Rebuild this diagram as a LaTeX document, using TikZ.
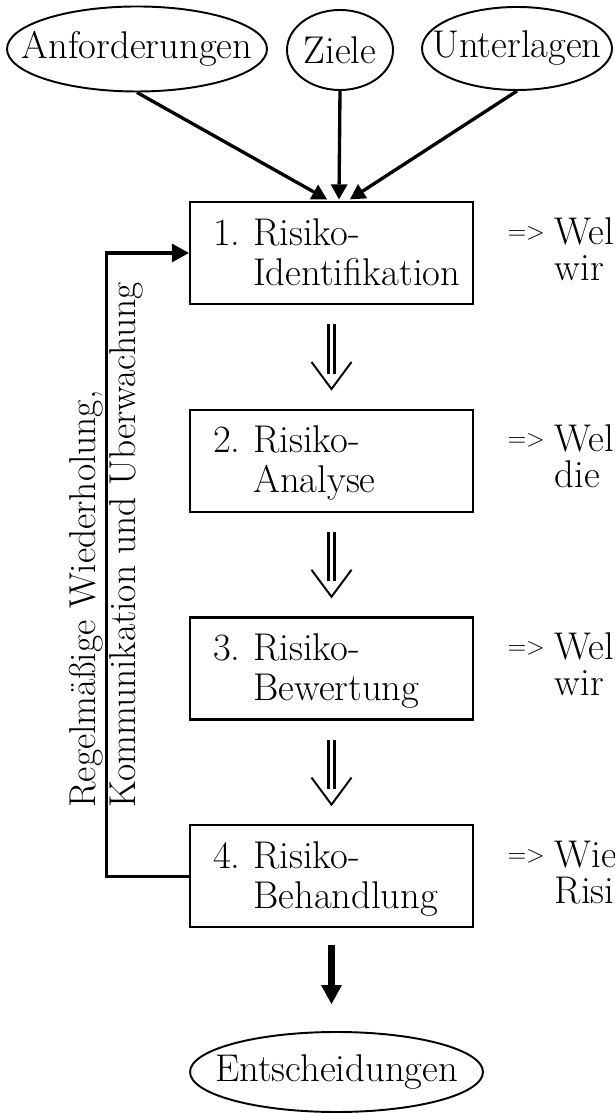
\documentclass[tikz,border=0pt]{standalone}
\usetikzlibrary{arrows.meta,positioning,calc,shapes.geometric}

\newcommand{\riskstep}[2]{\rule{0pt}{0.64cm}#1.~Risiko-\\\phantom{#1.~}#2\vphantom{g}}
\newcommand{\impl}{\raisebox{0.1cm}{\fontsize{14pt}{14pt}\selectfont =>}}
\newcommand{\question}[2]{\impl\hspace{0.2cm}#1\\\phantom{\impl\hspace{0.2cm}}#2}

\tikzset{
  every node/.style={font=\fontsize{22pt}{22.76pt}\selectfont},
  bubble/.style={draw, ellipse, line width=1.1pt, inner xsep=-0.6cm, inner ysep=0pt},
  stepbox/.style={draw, line width=1.3pt, minimum height=2.04cm, text width=4.74cm,
    inner xsep=0.46cm, inner ysep=0pt, align=left},
  note/.style={inner sep=0pt, align=left, font=\fontsize{22pt}{20.5pt}\selectfont},
  sidelabel/.style={inner sep=0pt, align=left, font=\fontsize{21.3pt}{22.76pt}\selectfont},
  inarrow/.style={line width=1.9pt, -{Triangle[length=0.3cm, width=0.34cm, line width=0pt]}},
  backarrow/.style={line width=1.8pt, -{Triangle[length=0.34cm, width=0.38cm, line width=0pt]}},
  dblshaft/.style={double, double distance=2pt, line width=1.6pt, shorten <=0.38cm, shorten >=0.7cm},
  vhead/.style={draw=white, line width=1.1pt, shorten <=0.5cm, shorten >=0.36cm,
    -{Straight Barb[black, length=0.54cm, width=0.8cm]}},
  outarrow/.style={line width=4.5pt, shorten <=0.34cm, shorten >=0.54cm,
    -{Triangle[length=0.38cm, width=0.42cm, line width=0pt]}}
}

\begin{document}
\begin{tikzpicture}
  \useasboundingbox (0,0) rectangle (12.3,22.26);

  \node[bubble, minimum width=5.2cm, minimum height=1.7cm] (anf) at (2.74,21.28) {Anforderungen};
  \node[bubble, minimum width=2.12cm, minimum height=1.6cm] (ziele) at (6.8,21.26) {Ziele};
  \node[bubble, minimum width=3.8cm, minimum height=1.66cm] (unt) at (10.34,21.29) {Unterlagen};

  \node[stepbox] (s1) at (6.63,17.2) {\riskstep{1}{Identifikation}};
  \node[stepbox, below=2.07cm of s1] (s2) {\riskstep{2}{Analyse}};
  \node[stepbox, below=2.07cm of s2] (s3) {\riskstep{3}{Bewertung}};
  \node[stepbox, below=2.07cm of s3] (s4) {\riskstep{4}{Behandlung}};

  \node[bubble, minimum width=5.86cm, minimum height=1.6cm] (ent) at (6.73,0.82) {Entscheidungen};

  \foreach \s/\t/\u in {s1/Wel/wir, s2/Wel/die, s3/Wel/wir, s4/Wie/Risi}
    \node[note, right=0.66cm of \s, yshift=0.084cm] (q\s) {\question{\t}{\u}};

  \draw[inarrow] (anf.south) -- ($(s1.north)+(-0.09,0.03)$);
  \draw[inarrow] (ziele.south) -- ($(s1.north)+(0.15,0.03)$);
  \draw[inarrow] (unt.south) -- ($(s1.north)+(0.37,0.03)$);

  \foreach \a/\b in {s1/s2, s2/s3, s3/s4} {
    \draw[vhead] (\a) -- (\b);
    \draw[dblshaft] (\a) -- (\b);
  }

  \draw[backarrow] (s4.west) -- ++(-1.64,0) |- (s1.west);
  \node[sidelabel, anchor=west, rotate=90] (loop) at (2.12,6.1)
    {Regelmäßige Wiederholung,\\Kommunikation und Überwachung};

  \draw[outarrow] (s4.south) -- (s4.south |- ent.north);
\end{tikzpicture}
\end{document}
